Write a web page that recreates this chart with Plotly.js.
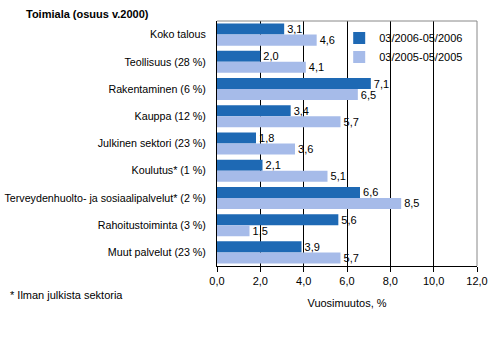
<!DOCTYPE html>
<html><head><meta charset="utf-8">
<script src="https://cdn.plot.ly/plotly-3.0.1.min.js"></script>
<style>html,body{margin:0;padding:0;background:#fff;}#chart{width:495px;height:342px;}</style>
</head><body><div id="chart"></div>
<script>
const categories = ["Koko talous","Teollisuus (28 %)","Rakentaminen (6 %)","Kauppa (12 %)","Julkinen sektori (23 %)","Koulutus* (1 %)","Terveydenhuolto- ja sosiaalipalvelut* (2 %)","Rahoitustoiminta (3 %)","Muut palvelut (23 %)"];
const series2006Name = "03/2006-05/2006";
const series2006 = [3.1,2.0,7.1,3.4,1.8,2.1,6.6,5.6,3.9];
const series2005Name = "03/2005-05/2005";
const series2005 = [4.6,4.1,6.5,5.7,3.6,5.1,8.5,1.5,5.7];
const xTicks = [0,2,4,6,8,10,12];

const fnt = "Liberation Sans, Arial, sans-serif";
const fmt = v => v.toFixed(1).replace('.', ',');

const traces = [
  {type:'bar', orientation:'h', name:series2006Name, y:categories, x:series2006,
   marker:{color:'#1e69b4'}, text:series2006.map(fmt), textposition:'outside',
   textfont:{family:fnt,size:11,color:'#000'}, cliponaxis:false, constraintext:'none', hoverinfo:'none'},
  {type:'bar', orientation:'h', name:series2005Name, y:categories, x:series2005,
   marker:{color:'#a6bbe9'}, text:series2005.map(fmt), textposition:'outside',
   textfont:{family:fnt,size:11,color:'#000'}, cliponaxis:false, constraintext:'none', hoverinfo:'none'}
];

const layout = {
  width:495, height:342,
  margin:{l:217, r:18, t:21, b:76},
  paper_bgcolor:'#fff', plot_bgcolor:'#fff',
  font:{family:fnt, size:11, color:'#000'},
  barmode:'group', bargap:0.19, bargroupgap:0,
  separators:',.',
  xaxis:{range:[0,12], tickvals:xTicks, ticktext:xTicks.map(fmt), showgrid:true, gridcolor:'#000', gridwidth:1,
         zeroline:false, showline:true, linecolor:'#000', linewidth:1, ticks:'outside', ticklen:5, tickcolor:'#000',
         tickfont:{family:fnt,size:11}, fixedrange:true,
         title:{text:'Vuosimuutos, %', font:{family:fnt,size:11}, standoff:13}},
  yaxis:{type:'category', categoryorder:'array', categoryarray:categories, autorange:'reversed',
         showgrid:false, zeroline:false, showline:true, linecolor:'#000', linewidth:1, ticks:'',
         ticklabelstandoff:8, tickfont:{family:fnt,size:10.7}, fixedrange:true},
  showlegend:true,
  legend:{x:0.47, y:0.99, xanchor:'left', yanchor:'top', bgcolor:'rgba(0,0,0,0)', borderwidth:0,
          font:{family:fnt,size:11}, tracegroupgap:0, itemwidth:30, traceorder:'normal'},
  shapes:[
    {type:'rect', xref:'paper', yref:'paper', x0:0.59, x1:0.975, y0:0.83, y1:0.98, fillcolor:'#fff', line:{width:0}, layer:'between'},
    {type:'line', xref:'paper', yref:'paper', x0:0, x1:1, y0:1, y1:1, line:{color:'#888', width:1}},
    {type:'line', xref:'paper', yref:'paper', x0:1, x1:1, y0:0, y1:1, line:{color:'#888', width:1}}
  ],
  annotations:[
    {text:'<b>Toimiala (osuus v.2000)</b>', xref:'paper', yref:'paper', x:-0.742, y:1.0, yshift:7, xanchor:'left', yanchor:'middle', showarrow:false, font:{family:fnt,size:11}},
    {text:'* Ilman julkista sektoria', xref:'paper', yref:'paper', x:-0.805, y:-0.118, xanchor:'left', yanchor:'middle', showarrow:false, font:{family:fnt,size:11}}
  ]
};
Plotly.newPlot('chart', traces, layout, {displayModeBar:false, staticPlot:true});
</script></body></html>
